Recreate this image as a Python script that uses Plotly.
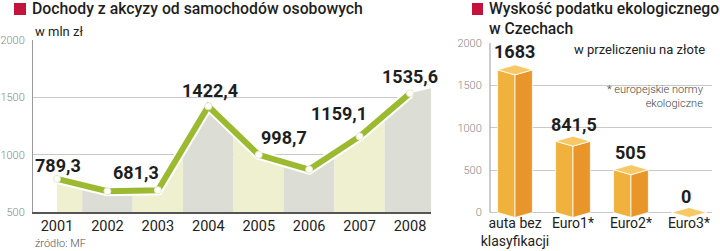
import plotly.graph_objects as go

# ---------------- data ----------------
years = [2001, 2002, 2003, 2004, 2005, 2006, 2007, 2008]
income = [789.3, 681.3, 690.0, 1422.4, 998.7, 870.0, 1159.1, 1535.6]
income_labels = ["789,3", "681,3", "", "1422,4", "998,7", "", "1159,1", "1535,6"]
area_edge_value = 1580.0  # top of the shaded area at the right plot edge

tax_categories = ["auta bez<br>klasyfikacji", "Euro1*", "Euro2*", "Euro3*"]
tax_values = [1683, 841.5, 505, 0]
tax_labels = ["1683", "841,5", "505", "0"]

left_yticks = [500, 1000, 1500, 2000]
right_yticks = [0, 500, 1000, 1500, 2000]

# ---------------- styling ----------------
W, H = 720, 251
FONT = "Roboto"
RED = "#c3133d"
GREEN = "#9cba30"
STRIP_COLORS = ["#eef0d0", "#dcddd4"]
FACE_L, FACE_R, FACE_TOP = "#f0b23c", "#e8962a", "#f7c866"
GRID = "#c9c9c9"

label_offsets = [(1, 13), (29, 19), (0, 0), (2, 16), (25, 17), (0, 0), (-21, 23), (0, 17)]
bar_label_offsets = [(-1, 18), (1, 17), (0, 17), (-3, 16)]


def px(xp):
    return xp / W


def py(yp):
    return 1 - yp / H


XL_RANGE = [2000.524, 2008.416]
XR_RANGE = [-0.431, 3.397]
YR_RANGE = [-65, 2000]

fig = go.Figure()

# ---- left: shaded strips under the line ----
n = len(years)
for i in range(n):
    xs, ys = [], []
    if i == 0:
        xs.append(years[i]); ys.append(income[i])
    else:
        xs.append(years[i] - 0.5); ys.append((income[i - 1] + income[i]) / 2)
        xs.append(years[i]); ys.append(income[i])
    if i < n - 1:
        xs.append(years[i] + 0.5); ys.append((income[i] + income[i + 1]) / 2)
        right = years[i] + 0.5
    else:
        xs.append(XL_RANGE[1]); ys.append(area_edge_value)
        right = XL_RANGE[1]
    left = xs[0]
    poly_x = [left] + xs + [right, left]
    poly_y = [500] + ys + [500, 500]
    fig.add_trace(go.Scatter(
        x=poly_x, y=poly_y, fill="toself", fillcolor=STRIP_COLORS[i % 2],
        line=dict(width=0), mode="lines", hoverinfo="skip", showlegend=False,
        xaxis="x", yaxis="y"))

# line with white outline
fig.add_trace(go.Scatter(x=years, y=income, mode="lines",
                         line=dict(color="white", width=10), hoverinfo="skip",
                         showlegend=False, xaxis="x", yaxis="y"))
fig.add_trace(go.Scatter(x=years, y=income, mode="lines+markers",
                         line=dict(color=GREEN, width=6),
                         marker=dict(size=7, color="white", line=dict(color="#e4ecc4", width=1)),
                         showlegend=False, xaxis="x", yaxis="y"))

annotations = []
for yr, v, t, (dx, dy) in zip(years, income, income_labels, label_offsets):
    if not t:
        continue
    annotations.append(dict(x=yr, y=v, xref="x", yref="y", text=t, showarrow=False,
                            xshift=dx, yshift=dy,
                            font=dict(family=FONT, size=18, color="#1e1e1e", weight="bold")))

# ---- right: pseudo-3D bars ----
bw = 0.30   # half-width in x units
bd = 59     # half-height of top rhombus in y units
for i, v in enumerate(tax_values):
    c = i
    fig.add_trace(go.Scatter(
        x=[c - bw, c, c, c - bw, c - bw], y=[v, v - bd, -bd, 0, v],
        fill="toself", fillcolor=FACE_L, mode="lines", line=dict(color="white", width=0.8),
        hoverinfo="skip", showlegend=False, xaxis="x2", yaxis="y2"))
    fig.add_trace(go.Scatter(
        x=[c, c + bw, c + bw, c, c], y=[v - bd, v, 0, -bd, v - bd],
        fill="toself", fillcolor=FACE_R, mode="lines", line=dict(color="white", width=0.8),
        hoverinfo="skip", showlegend=False, xaxis="x2", yaxis="y2"))
    fig.add_trace(go.Scatter(
        x=[c - bw, c, c + bw, c, c - bw], y=[v, v + bd, v, v - bd, v],
        fill="toself", fillcolor=FACE_TOP, mode="lines", line=dict(color="white", width=0.8),
        hoverinfo="skip", showlegend=False, xaxis="x2", yaxis="y2"))

for i, (v, t, (dx, dy)) in enumerate(zip(tax_values, tax_labels, bar_label_offsets)):
    annotations.append(dict(x=i, y=v, xref="x2", yref="y2", text=t, showarrow=False,
                            xshift=dx, yshift=dy,
                            font=dict(family=FONT, size=18, color="#1e1e1e", weight="bold")))

# ---- titles & notes ----
annotations += [
    dict(x=px(30), y=py(9), xref="paper", yref="paper", xanchor="left", yanchor="middle",
         text="Dochody z akcyzy od samochodów osobowych", showarrow=False,
         font=dict(family=FONT, size=15.8, color="#1e1e1e", weight=500)),
    dict(x=px(33), y=py(31), xref="paper", yref="paper", xanchor="left", yanchor="middle",
         text="w mln zł", showarrow=False, font=dict(family=FONT, size=13, color="#222")),
    dict(x=px(33), y=py(243), xref="paper", yref="paper", xanchor="left", yanchor="middle",
         text="źródło: MF", showarrow=False, font=dict(family=FONT, size=11, color="#555", weight=300)),
    dict(x=px(487), y=py(18), xref="paper", yref="paper", xanchor="left", yanchor="middle",
         text="Wyskość podatku ekologicznego<br>w Czechach", showarrow=False, align="left",
         font=dict(family=FONT, size=15.7, color="#1e1e1e", weight=500)),
    dict(x=px(707), y=py(49), xref="paper", yref="paper", xanchor="right", yanchor="middle",
         text="w przeliczeniu na złote", showarrow=False,
         font=dict(family=FONT, size=13, color="#222")),
    dict(x=px(706), y=py(96), xref="paper", yref="paper", xanchor="right", yanchor="middle",
         text="* europejskie normy<br>ekologiczne", showarrow=False, align="right",
         font=dict(family=FONT, size=11, color="#444", weight=300)),
]

shapes = [
    dict(type="rect", xref="paper", yref="paper", x0=px(14), x1=px(26), y0=py(15), y1=py(3),
         fillcolor=RED, line=dict(width=0)),
    dict(type="rect", xref="paper", yref="paper", x0=px(472), x1=px(483), y0=py(15), y1=py(3),
         fillcolor=RED, line=dict(width=0)),
    dict(type="line", xref="x2 domain", yref="y2", x0=0, x1=0, y0=0, y1=2000,
         line=dict(color="#999", width=1)),
]

fig.update_layout(
    width=W, height=H, margin=dict(l=0, r=0, t=0, b=0, autoexpand=False),
    paper_bgcolor="white", plot_bgcolor="white",
    font=dict(family=FONT),
    showlegend=False,
    annotations=annotations, shapes=shapes,
    xaxis=dict(domain=[px(33), px(431)], range=XL_RANGE, tickvals=years,
               ticks="", tickangle=0, automargin=False,
               tickfont=dict(family=FONT, size=14.5, color="#222"),
               showgrid=False, zeroline=False, showline=True, linecolor="#555", linewidth=2),
    yaxis=dict(domain=[1 - 212 / H, 1 - 40 / H], range=[500, 2000], tickvals=left_yticks,
               ticks="outside", ticklen=5, tickcolor="rgba(0,0,0,0)", automargin=False,
               tickfont=dict(family=FONT, size=11, color="#888", weight=300),
               showgrid=True, gridcolor=GRID, gridwidth=1, zeroline=False,
               showline=True, linecolor="#999", linewidth=1),
    xaxis2=dict(domain=[px(490), px(712)], range=XR_RANGE, tickvals=[0, 1, 2, 3],
                ticktext=tax_categories, ticks="", anchor="free", position=1 - 213 / H,
                tickangle=0, automargin=False,
                tickfont=dict(family=FONT, size=14, color="#222"),
                showgrid=False, zeroline=False, showline=False),
    yaxis2=dict(domain=[1 - 218 / H, 1 - 43 / H], range=YR_RANGE, tickvals=right_yticks,
                anchor="x2", ticks="outside", ticklen=5, tickcolor="rgba(0,0,0,0)",
                automargin=False,
                tickfont=dict(family=FONT, size=11, color="#888", weight=300),
                showgrid=True, gridcolor=GRID, gridwidth=1, zeroline=False, showline=False),
)

fig.write_html("out.html")
